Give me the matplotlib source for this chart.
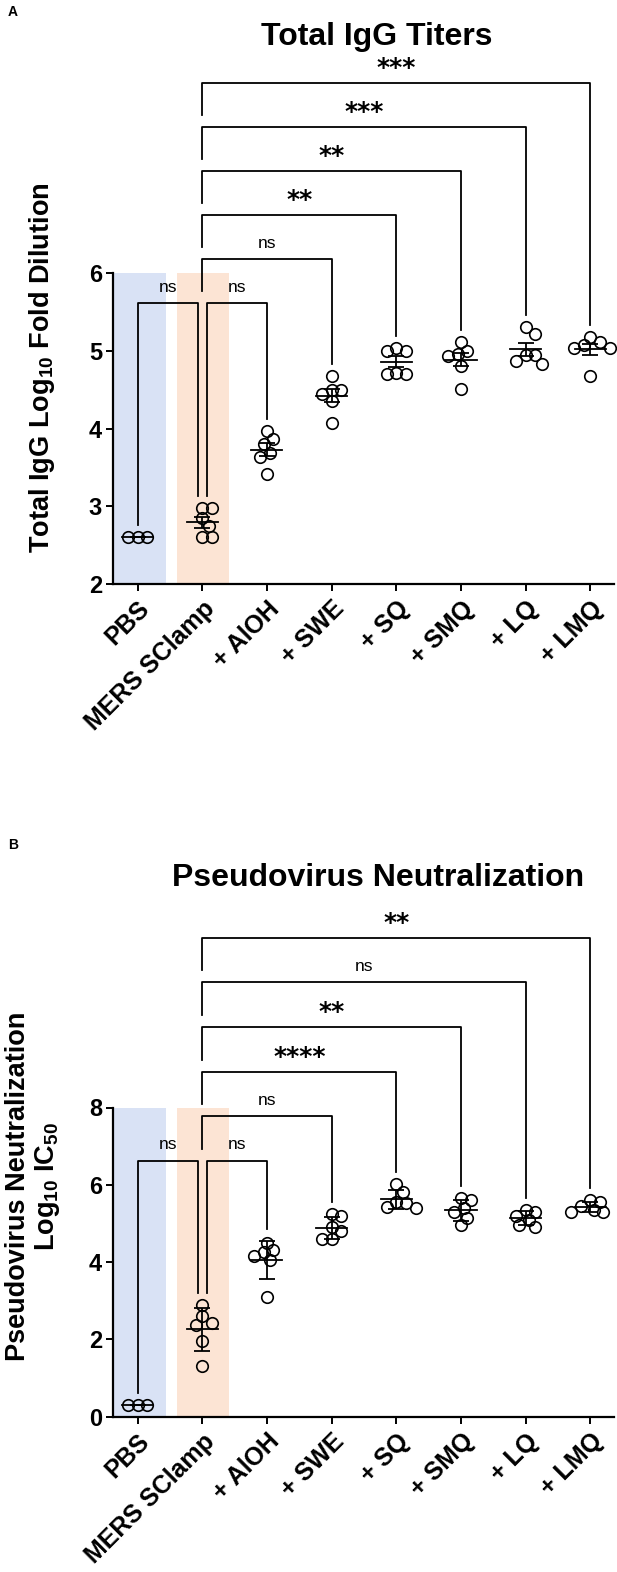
"""
Total IgG titers and pseudovirus neutralization, MERS SClamp adjuvant panel.
"""
import numpy as np
import matplotlib
matplotlib.use('Agg')
import matplotlib.pyplot as plt
from matplotlib import font_manager

# ---- data -------------------------------------------------------------
groups = ['PBS', 'MERS SClamp', '+ AlOH', '+ SWE', '+ SQ', '+ SMQ', '+ LQ', '+ LMQ']

igg_pbs = [2.60, 2.60, 2.60]
igg_sclamp = [2.98, 2.98, 2.85, 2.75, 2.60, 2.60]
igg_aloh = [3.97, 3.87, 3.80, 3.69, 3.63, 3.41]
igg_swe = [4.67, 4.49, 4.49, 4.45, 4.36, 4.07]
igg_sq = [5.03, 5.00, 5.00, 4.72, 4.70, 4.70]
igg_smq = [5.11, 5.00, 4.96, 4.93, 4.81, 4.51]
igg_lq = [5.30, 5.22, 4.94, 4.94, 4.87, 4.83]
igg_lmq = [5.18, 5.11, 5.07, 5.03, 5.03, 4.68]

neut_pbs = [0.30, 0.30, 0.30]
neut_sclamp = [2.89, 2.59, 2.42, 2.38, 1.95, 1.30]
neut_aloh = [4.50, 4.30, 4.25, 4.15, 4.05, 3.10]
neut_swe = [5.25, 5.20, 4.90, 4.80, 4.60, 4.60]
neut_sq = [6.02, 5.82, 5.56, 5.52, 5.43, 5.39]
neut_smq = [5.65, 5.60, 5.40, 5.30, 5.15, 4.95]
neut_lq = [5.35, 5.30, 5.20, 5.10, 4.95, 4.90]
neut_lmq = [5.60, 5.55, 5.45, 5.35, 5.30, 5.30]

# comparisons against MERS SClamp (group 1)
comp_targets = [0, 2, 3, 4, 5, 6, 7]
igg_sig = ['ns', 'ns', 'ns', '**', '**', '***', '***']
neut_sig = ['ns', 'ns', 'ns', '****', '**', 'ns', '**']

igg_ticks = [2, 3, 4, 5, 6]
neut_ticks = [0, 2, 4, 6, 8]

# ---- fonts ------------------------------------------------------------
plt.rcParams['font.family'] = ['Liberation Sans', 'DejaVu Sans']
plt.rcParams['mathtext.fontset'] = 'custom'
plt.rcParams['mathtext.rm'] = 'Liberation Sans:bold'
plt.rcParams['mathtext.bf'] = 'Liberation Sans:bold'
plt.rcParams['mathtext.default'] = 'rm'

try:
    font_manager.findfont(font_manager.FontProperties(family='Liberation Sans Narrow'),
                          fallback_to_default=False)
    title_family, title_size = 'Liberation Sans Narrow', 28
except ValueError:
    title_family, title_size = 'Liberation Sans', 23

W, H = 617, 1572
BLUE = '#d9e2f5'
ORANGE = '#fce4d4'
LW = 1.3


def fx(px):
    return px / W


def fy(py):
    return 1 - py / H


def swarm(vals, px_x, px_y, diam=12.5):
    # simple beeswarm: points may overlap a little, like the Prism layout
    placed, offs = [], []
    step = 0.26 * diam
    cands = [0.0]
    for k in range(1, 30):
        cands += [k * step, -k * step]
    for v in vals:
        y = v * px_y
        for c in cands:
            if all(np.hypot(c - a, y - b) >= 0.78 * diam for a, b in placed):
                break
        placed.append((c, y))
        offs.append(c / px_x)
    return np.array(offs)


def draw_panel(ax, data, ylim, ticks, sig, err_kind, base, step_px):
    ax.set_xlim(-0.379, 7.365)
    ax.set_ylim(*ylim)
    bbox = ax.get_window_extent()
    px_x = bbox.width / (7.365 + 0.379)
    px_y = bbox.height / (ylim[1] - ylim[0])

    ax.axvspan(-0.379, 0.44, ymax=1, color=BLUE, lw=0, zorder=0)
    ax.axvspan(0.61, 1.41, ymax=1, color=ORANGE, lw=0, zorder=0)

    tops = []
    for i, vals in enumerate(data):
        vals = np.array(vals)
        offs = swarm(vals, px_x, px_y)
        ax.plot(i + offs, vals, 'o', mfc='none', mec='black', ms=8.3, mew=1.2,
                zorder=3, clip_on=False)
        m = vals.mean()
        err = vals.std(ddof=1)
        if err_kind == 'sem':
            err = err / np.sqrt(len(vals))
        ax.plot([i - 0.24, i + 0.24], [m, m], 'k-', lw=LW, zorder=4)
        ax.errorbar(i, m, yerr=err, fmt='none', ecolor='k', elinewidth=LW,
                    capsize=6, capthick=LW, zorder=4)
        tops.append(max(vals.max(), m + err))

    gap = 12 / px_y
    kw = dict(color='k', lw=LW, clip_on=False, zorder=5)
    for n, (t, lab) in enumerate(zip(comp_targets, sig)):
        if t in (0, 2):
            level = base
            x0 = 0.93 if t == 0 else 1.07
            ax.plot([x0, x0, t, t], [tops[1] + gap, level, level, tops[t] + gap], **kw)
            xm = (x0 + t) / 2
        else:
            level = base + (n - 1) * step_px / px_y
            ax.plot([1, 1, t, t], [level - (step_px - 12) / px_y, level, level,
                                   tops[t] + gap], **kw)
            xm = (1 + t) / 2
        if lab == 'ns':
            ax.annotate(lab, xy=(xm, level), xytext=(0, 11.5), textcoords='offset points',
                        ha='center', va='center', fontsize=12.5, annotation_clip=False)
        else:
            ax.annotate(lab, xy=(xm, level), xytext=(0, 10.8), textcoords='offset points',
                        ha='center', va='center', fontsize=18, fontweight='bold',
                        family='DejaVu Sans', annotation_clip=False)

    for s in ['top', 'right']:
        ax.spines[s].set_visible(False)
    for s in ['left', 'bottom']:
        ax.spines[s].set_linewidth(1.6)
    ax.set_yticks(ticks)
    ax.set_yticklabels([str(t) for t in ticks], fontsize=17, fontweight='bold')
    ax.set_xticks(range(len(groups)))
    ax.set_xticklabels(groups, rotation=45, ha='right', rotation_mode='anchor',
                       fontsize=18, fontweight='bold')
    ax.tick_params(axis='both', length=5, width=1.4, pad=3)
    ax.tick_params(axis='x', pad=4)


fig = plt.figure(figsize=(W / 100, H / 100), dpi=100)

ax_a = fig.add_axes([fx(113), fy(584), fx(614) - fx(113), fy(273) - fy(584)])
ax_b = fig.add_axes([fx(113), fy(1416.5), fx(614) - fx(113), fy(1107.5) - fy(1416.5)])

igg_data = [igg_pbs, igg_sclamp, igg_aloh, igg_swe, igg_sq, igg_smq, igg_lq, igg_lmq]
neut_data = [neut_pbs, neut_sclamp, neut_aloh, neut_swe, neut_sq, neut_smq, neut_lq, neut_lmq]

draw_panel(ax_a, igg_data, (2, 6), igg_ticks, igg_sig, 'sem', 5.614, 44)
draw_panel(ax_b, neut_data, (0, 8), neut_ticks, neut_sig, 'sd', 6.62, 44.6)

fig.text(fx(377), fy(37), 'Total IgG Titers', ha='center', va='center',
         family=title_family, fontsize=title_size, fontweight='bold')
fig.text(fx(378), fy(878), 'Pseudovirus Neutralization', ha='center', va='center',
         family=title_family, fontsize=title_size, fontweight='bold')

fig.text(fx(42), fy(368), 'Total IgG Log$_{10}$ Fold Dilution', rotation=90,
         ha='center', va='center', fontsize=19.5, fontweight='bold')
fig.text(fx(33.5), fy(1186), 'Pseudovirus Neutralization\nLog$_{10}$ IC$_{50}$',
         rotation=90, ha='center', va='center', multialignment='center',
         linespacing=1.1, fontsize=19.5, fontweight='bold')

fig.text(fx(8), fy(12), 'A', ha='left', va='center', fontsize=10, fontweight='bold')
fig.text(fx(8), fy(845), 'B', ha='left', va='center', fontsize=10, fontweight='bold')

fig.savefig('out.png', dpi=100)
